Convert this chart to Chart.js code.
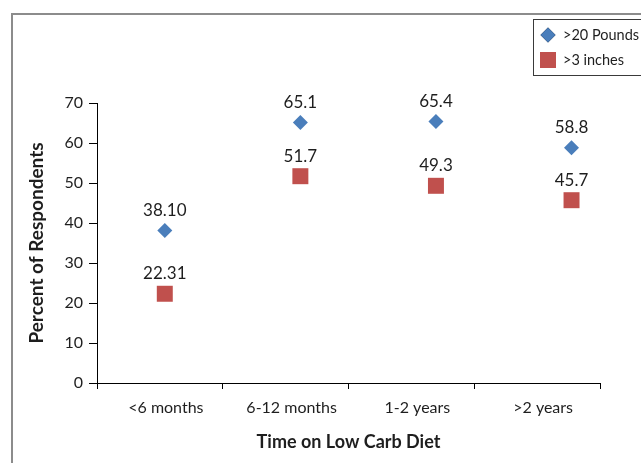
<!DOCTYPE html>
<html>
<head>
<meta charset="utf-8">
<script src="https://cdn.jsdelivr.net/npm/chart.js@4.4.0/dist/chart.umd.min.js"></script>
<style>
    body { margin: 0; background: #ffffff; }
    #wrap { position: relative; width: 641px; height: 463px; }
</style>
</head>
<body>
<div id="wrap"><canvas id="lowCarbChart" width="641" height="463"></canvas></div>
<script>
// Survey results by time on diet
const categories = ['<6 months', '6-12 months', '1-2 years', '>2 years'];
const seriesNames = ['>20 Pounds', '>3 inches'];
const pointX = [1, 2, 3, 4];
const poundsValues = [38.10, 65.1, 65.4, 58.8];
const poundsLabels = ['38.10', '65.1', '65.4', '58.8'];
const inchesValues = [22.31, 51.7, 49.3, 45.7];
const inchesLabels = ['22.31', '51.7', '49.3', '45.7'];

const BLUE = '#4a7ebb';
const RED = '#c0504d';
const TEXT = '#1e1e1e';
const FONT = 'Lato, "Open Sans", sans-serif';

// Outer frame + value labels above points
const labelPlugin = {
    id: 'valueLabels',
    beforeDraw(chart) {
        const ctx = chart.ctx;
        ctx.save();
        ctx.strokeStyle = '#8c8c8c';
        ctx.lineWidth = 2;
        ctx.beginPath();
        ctx.moveTo(12, 470);
        ctx.lineTo(12, 14);
        ctx.lineTo(650, 14);
        ctx.stroke();
        ctx.restore();
    },
    afterDatasetsDraw(chart) {
        const ctx = chart.ctx;
        ctx.save();
        ctx.font = '17px ' + FONT;
        ctx.fillStyle = TEXT;
        ctx.textAlign = 'center';
        ctx.textBaseline = 'middle';
        chart.data.datasets.forEach((ds, i) => {
            chart.getDatasetMeta(i).data.forEach((pt, j) => {
                ctx.fillText(ds.valueLabels[j], pt.x, pt.y - 20);
            });
        });
        ctx.restore();
    },
    afterDraw(chart) {
        // boxed legend, top right
        const ctx = chart.ctx;
        ctx.save();
        ctx.strokeStyle = '#3a3a3a';
        ctx.lineWidth = 1;
        ctx.strokeRect(533.5, 19.5, 120, 56);
        ctx.font = '14.5px ' + FONT;
        ctx.textBaseline = 'middle';
        ctx.textAlign = 'left';
        chart.data.datasets.forEach((ds, i) => {
            const y = 35 + i * 25;
            Chart.helpers.drawPoint(ctx, {
                pointStyle: ds.pointStyle,
                radius: ds.pointRadius,
                borderWidth: 0,
                rotation: 0
            }, 548, y);
            ctx.fillStyle = ds.backgroundColor;
            ctx.fill();
            ctx.fillStyle = TEXT;
            ctx.fillText(ds.label, 563, y);
        });
        ctx.restore();
    }
};

new Chart(document.getElementById('lowCarbChart'), {
    type: 'scatter',
    data: {
        datasets: [{
            label: seriesNames[0],
            data: pointX.map((x, i) => ({ x: x, y: poundsValues[i] })),
            valueLabels: poundsLabels,
            pointStyle: 'rectRot',
            pointRadius: 7.5,
            pointHoverRadius: 7.5,
            backgroundColor: BLUE,
            borderWidth: 0,
            xAxisID: 'xp'
        }, {
            label: seriesNames[1],
            data: pointX.map((x, i) => ({ x: x, y: inchesValues[i] })),
            valueLabels: inchesLabels,
            pointStyle: 'rect',
            pointRadius: 11.3,
            pointHoverRadius: 11.3,
            backgroundColor: RED,
            borderWidth: 0,
            xAxisID: 'xp'
        }]
    },
    options: {
        responsive: false,
        animation: false,
        layout: {
            padding: { left: 17, top: 103, right: 41, bottom: 6 }
        },
        plugins: {
            legend: { display: false },
            tooltip: { enabled: false }
        },
        scales: {
            x: {
                type: 'category',
                labels: categories,
                offset: true,
                position: 'bottom',
                afterFit: function(scale) { scale.height = 74; },
                grid: {
                    offset: true,
                    drawOnChartArea: false,
                    drawTicks: true,
                    tickLength: 6,
                    color: '#000000'
                },
                border: { display: true, color: '#000000', width: 1 },
                ticks: {
                    color: TEXT,
                    padding: 9,
                    labelOffset: 6,
                    font: { family: FONT, size: 16 }
                },
                title: {
                    display: true,
                    text: 'Time on Low Carb Diet',
                    color: TEXT,
                    padding: { top: 4 },
                    font: { family: FONT, size: 18, weight: 'bold' }
                }
            },
            xp: {
                type: 'linear',
                display: false,
                min: 0.5,
                max: 4.21
            },
            y: {
                min: 0,
                max: 70,
                afterFit: function(scale) { scale.width = 80; },
                grid: {
                    drawOnChartArea: false,
                    drawTicks: true,
                    tickLength: 8,
                    color: '#000000'
                },
                border: { display: true, color: '#000000', width: 1 },
                ticks: {
                    stepSize: 10,
                    color: TEXT,
                    padding: 6,
                    font: { family: FONT, size: 16 }
                },
                title: {
                    display: true,
                    text: 'Percent of Respondents',
                    color: TEXT,
                    padding: { top: 8 },
                    font: { family: FONT, size: 19, weight: 'bold' }
                }
            }
        }
    },
    plugins: [labelPlugin]
});
</script>
</body>
</html>
